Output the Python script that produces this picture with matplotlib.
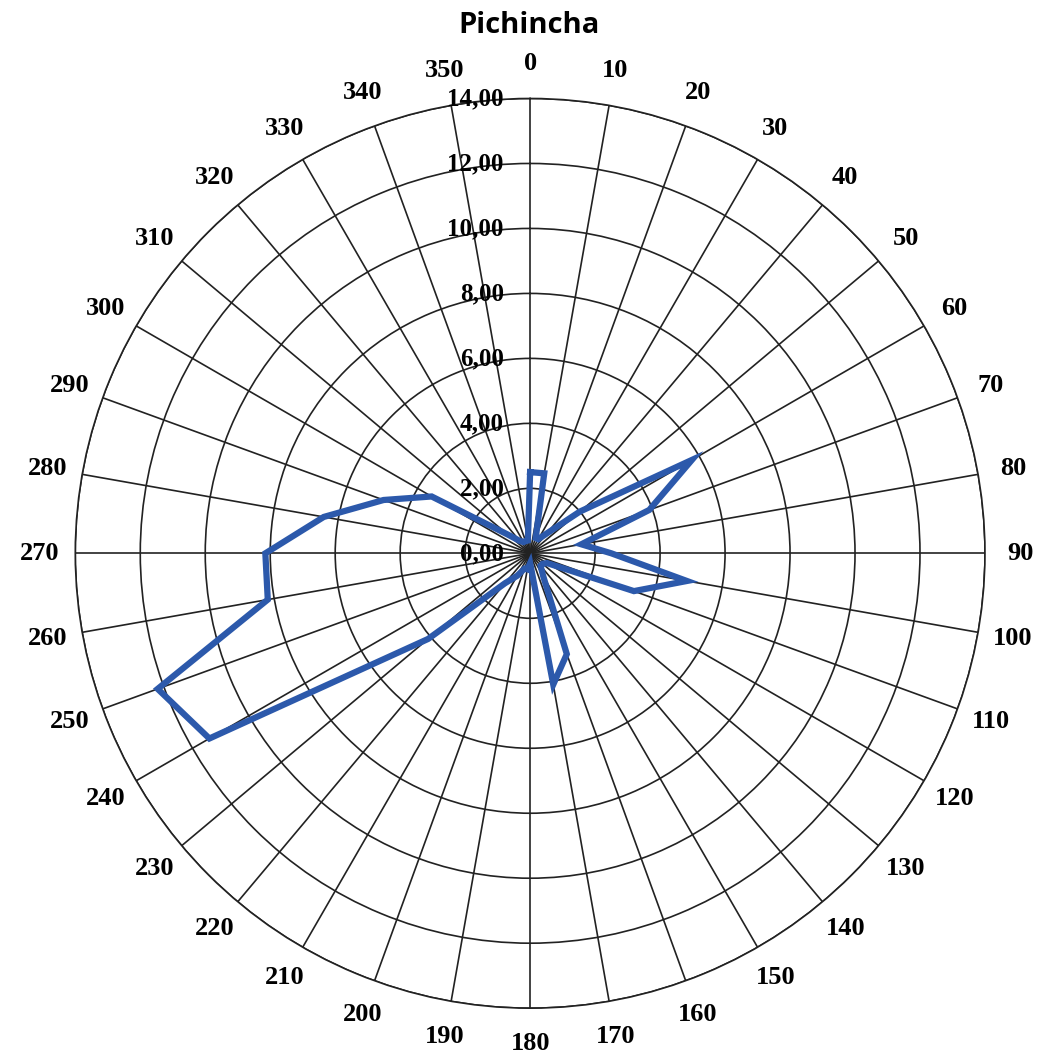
import numpy as np
import matplotlib.pyplot as plt
from matplotlib.transforms import offset_copy

# wind direction (degrees) and frequency
directions = list(range(0, 360, 10))
values = [2.5, 2.5, 0.5, 0.5, 0.8, 2.0, 5.75, 3.9, 1.6, 2.5,
          4.9, 3.4, 0.6, 0.5, 0.5, 0.8, 3.3, 4.1, 0.3, 0.5,
          0.5, 0.8, 1.2, 4.1, 11.4, 12.2, 8.2, 8.15, 6.45, 4.8,
          3.5, 0.9, 0.5, 0.4, 0.4, 0.4]
r_ticks = [0, 2, 4, 6, 8, 10, 12, 14]
r_labels = ["0,00", "2,00", "4,00", "6,00", "8,00", "10,00", "12,00", "14,00"]

fig = plt.figure(figsize=(10.45, 10.59), dpi=100)
ax = fig.add_axes([0.0718, 0.048, 0.871, 0.859], projection='polar')
ax.set_theta_zero_location('N')
ax.set_theta_direction(-1)

# closed polygon of the wind rose
theta = np.deg2rad(directions + [directions[0]])
r = values + [values[0]]
ax.plot(theta, r, color='#2c59ab', linewidth=4.5, solid_joinstyle='miter', zorder=5)

ax.set_ylim(0, 14)
ax.set_yticks(r_ticks)
ax.set_yticklabels([])
ax.set_xticks(np.deg2rad(directions))
ax.set_xticklabels([str(d) for d in directions], fontfamily='Liberation Serif',
                   fontweight='bold', fontsize=19)
ax.tick_params(axis='x', pad=15)
ax.grid(True, color='#222222', linewidth=1.2)
ax.spines['polar'].set_color('#222222')
ax.spines['polar'].set_linewidth(1.2)

# radial labels left of the north spoke
trans = offset_copy(ax.transData, fig=fig, x=-19, y=0, units='points')
for rv, lab in zip(r_ticks, r_labels):
    ax.text(0, rv, lab, transform=trans, ha='right', va='center',
            fontfamily='Liberation Serif', fontweight='bold', fontsize=18, zorder=7)

fig.text(0.506, 0.976, "Pichincha", ha='center', va='center',
         fontfamily='Open Sans', fontweight='bold', fontsize=21)

fig.savefig('out.png', dpi=100)
